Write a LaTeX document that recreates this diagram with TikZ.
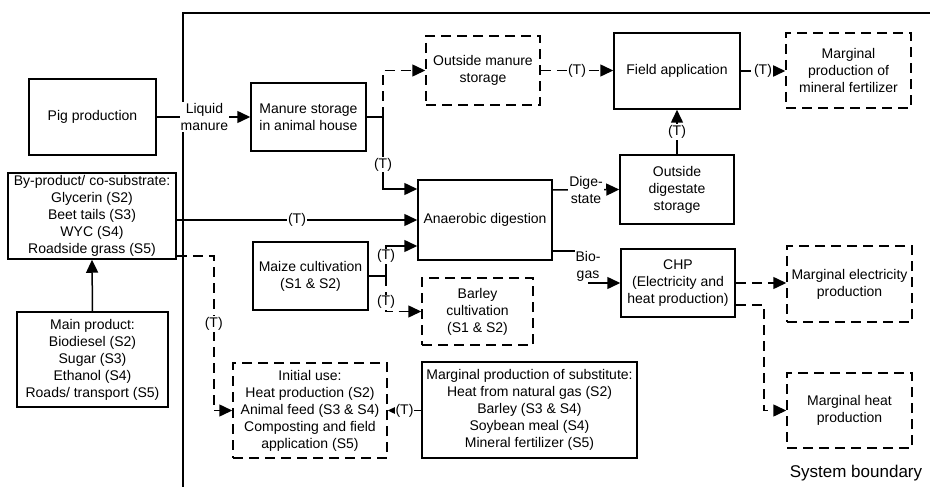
\documentclass[tikz,border=0pt]{standalone}
\usepackage{fontspec}
\setmainfont{Liberation Sans}
\usetikzlibrary{arrows.meta,calc}
\begin{document}
\begin{tikzpicture}[x=1pt,y=-1pt,line width=1.5pt,
  every node/.style={font=\fontsize{14pt}{17pt}\selectfont},
  box/.style={draw,align=center,inner sep=1pt},
  dbox/.style={box,dash pattern=on 10pt off 6pt},
  dsh/.style={dash pattern=on 10pt off 6pt},
  myarr/.style={-{Triangle[length=13pt,width=12pt]}},
  lbl/.style={fill=white,align=center,inner sep=1pt}]
\useasboundingbox (0,0) rectangle (930,487);
% system boundary
\draw (183,487) -- (183,13) -- (930,13);
\node[font=\fontsize{17pt}{20pt}\selectfont] (sb) at (856,473) {System boundary};
% boxes
\node[box,minimum width=127pt,minimum height=76pt] (pig) at (92.5,117) {Pig production};
\node[box,minimum width=115pt,minimum height=68pt] (mstore) at (308.5,117) {Manure storage\\in animal house};
\node[dbox,minimum width=114pt,minimum height=69pt] (outman) at (483,70.5) {Outside manure\\storage};
\node[box,minimum width=126pt,minimum height=76pt] (field) at (677,71) {Field application};
\node[dbox,minimum width=125pt,minimum height=75pt] (mfert) at (848.5,70.5) {Marginal\\production of\\mineral fertilizer};
\node[box,minimum width=114pt,minimum height=69pt] (outdig) at (677,189.5) {Outside\\digestate\\storage};
\node[box,minimum width=134pt,minimum height=80pt] (ad) at (485,220) {Anaerobic digestion};
\node[box,minimum width=114pt,minimum height=68pt] (chp) at (678,283) {CHP\\(Electricity and\\heat production)};
\node[dbox,minimum width=125pt,minimum height=76pt] (melec) at (849.5,284) {Marginal electricity\\production};
\node[dbox,minimum width=125pt,minimum height=75pt] (mheat) at (849.5,410.5) {Marginal heat\\production};
\node[box,minimum width=168pt,minimum height=86pt] (byprod) at (92,216) {By-product/ co-substrate:\\Glycerin (S2)\\Beet tails (S3)\\WYC (S4)\\Roadside grass (S5)};
\node[box,minimum width=151pt,minimum height=95pt] (mainprod) at (92.5,359.5) {Main product:\\Biodiesel (S2)\\Sugar (S3)\\Ethanol (S4)\\Roads/ transport (S5)};
\node[box,minimum width=115pt,minimum height=68pt] (maize) at (310.5,276) {Maize cultivation\\(S1 \& S2)};
\node[dbox,minimum width=111pt,minimum height=67pt] (barley) at (477.5,311.5) {Barley\\cultivation\\(S1 \& S2)};
\node[dbox,minimum width=154pt,minimum height=95pt] (inituse) at (310,410.5) {Initial use:\\Heat production (S2)\\Animal feed (S3 \& S4)\\Composting and field\\application (S5)};
\node[box,minimum width=215pt,minimum height=96pt] (subst) at (529.5,410) {Marginal production of substitute:\\Heat from natural gas (S2)\\Barley (S3 \& S4)\\Soybean meal (S4)\\Mineral fertilizer (S5)};
% connectors
\draw[myarr] (pig.east) -- node[lbl,pos=0.51]{Liquid\\manure} (mstore.west);
\coordinate (j1) at (383,117);
\draw (mstore.east) -- (j1);
\draw[dsh,myarr] (j1) |- (outman.west);
\draw[myarr] (j1) |- node[lbl,pos=0.33]{(T)} ([yshift=31pt]ad.west);
\draw[myarr] (byprod.east |- ad.west) -- node[lbl]{(T)} (ad.west);
\coordinate (j2) at (386,276);
\draw (maize.east) -- (j2);
\draw[myarr] (j2) |- node[lbl,pos=0.33]{(T)} ([yshift=-26pt]ad.west);
\draw[dsh,myarr] (j2) |- node[lbl,pos=0.37]{(T)} (barley.west);
\draw[dsh,myarr] ([yshift=-40pt]byprod.east) -- ++(37,0) |- node[lbl,pos=0.22]{(T)} (inituse.west);
\draw[myarr] (mainprod.north) -- (byprod.south);
\draw[myarr] ([yshift=30pt]ad.east) -- node[lbl]{Dige-\\state} (outdig.west);
\coordinate (bg1) at (576,251);
\coordinate (bg2) at (588,283);
\draw ([yshift=-31pt]ad.east) -- (bg1);
\node[lbl] (bglbl) at (588,266) {Bio-\\gas};
\draw[myarr] (bg2) -- (chp.west);
\draw[myarr] (outdig.north) -- node[lbl]{(T)} (field.south);
\draw[dsh,myarr] (outman.east) -- node[lbl]{(T)} (outman.east -| field.west);
\draw[dsh,myarr] (field.east) -- node[lbl]{(T)} (field.east -| mfert.west);
\draw[dsh,myarr] (chp.east) -- (chp.east -| melec.west);
\draw[dsh,myarr] ([yshift=-22pt]chp.east) -- ++(28,0) |- (mheat.west);
\draw[myarr] (subst.west |- inituse.east) -- node[lbl]{(T)} (inituse.east);
\end{tikzpicture}
\end{document}
